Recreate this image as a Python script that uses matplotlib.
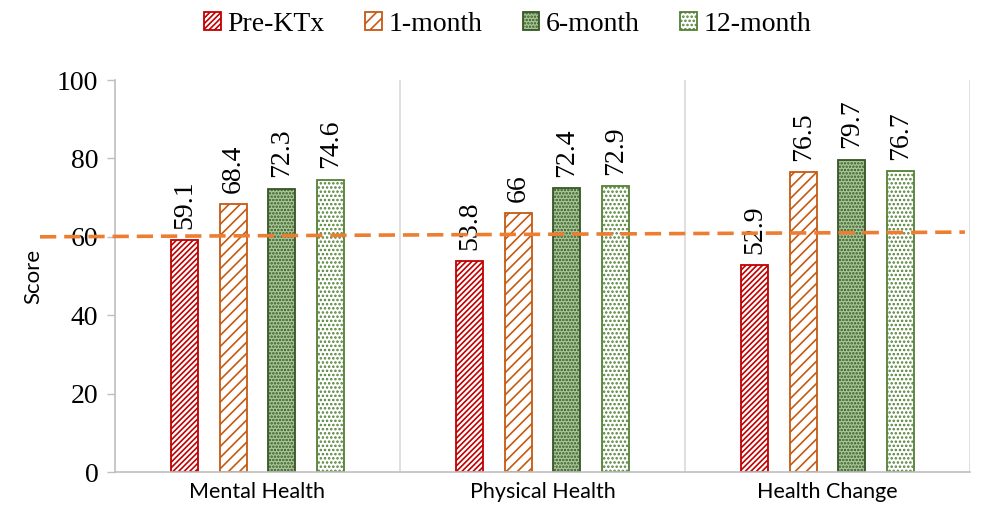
import matplotlib.pyplot as plt
import numpy as np

categories = ['Mental Health', 'Physical Health', 'Health Change']
series = ['Pre-KTx', '1-month', '6-month', '12-month']
pre_ktx = [59.1, 53.8, 52.9]
month_1 = [68.4, 66, 76.5]
month_6 = [72.3, 72.4, 79.7]
month_12 = [74.6, 72.9, 76.7]
value_labels = [['59.1', '53.8', '52.9'], ['68.4', '66', '76.5'],
                ['72.3', '72.4', '79.7'], ['74.6', '72.9', '76.7']]
ref_line = [60.0, 61.2]
yticks = [0, 20, 40, 60, 80, 100]

serif = 'Liberation Serif'
sans = 'Lato'

plt.rcParams['hatch.linewidth'] = 1.2

fig = plt.figure(figsize=(9.86, 5.21), dpi=100)
ax = fig.add_axes([0.1166, 0.094, 0.8672, 0.7524])

styles = [
    dict(facecolor='white', edgecolor='#C00000', hatch='//////'),
    dict(facecolor='white', edgecolor='#C55A11', hatch='///'),
    dict(facecolor='#A8C89A', edgecolor='#375623', hatch='.....'),
    dict(facecolor='white', edgecolor='#538135', hatch='....'),
]

x = np.arange(len(categories))
d = 0.171
w = 0.094
data = [pre_ktx, month_1, month_6, month_12]
for i, vals in enumerate(data):
    pos = x + (i - 1.5) * d
    bars = ax.bar(pos, vals, width=w, linewidth=1.3, label=series[i], **styles[i])
    for b, lab in zip(bars, value_labels[i]):
        ax.annotate(lab, (b.get_x() + b.get_width() / 2, b.get_height()),
                    xytext=(0, 8), textcoords='offset points', ha='center',
                    va='bottom', rotation=90, fontsize=20, family=serif)

# reference line
ax.plot([-0.763, 2.482], ref_line, color='#ED7D31', lw=2.6,
        dashes=(4.5, 2.2), clip_on=False, zorder=5)

ax.set_xlim(-0.5, 2.5)
ax.set_ylim(0, 100)
for xv in [0.5, 1.5, 2.5]:
    ax.axvline(xv, color='#D9D9D9', lw=1.2, zorder=0)

ax.set_yticks(yticks)
ax.set_yticklabels([str(t) for t in yticks], fontsize=20, family=serif)
ax.set_xticks(x)
ax.set_xticklabels(categories, fontsize=15.5, family=sans)
ax.tick_params(axis='x', length=0, pad=7)
ax.tick_params(axis='y', length=6, color='#BFBFBF', width=1, pad=6)
for s in ['top', 'right']:
    ax.spines[s].set_visible(False)
ax.spines['left'].set_color('#BFBFBF')
ax.spines['bottom'].set_color('#BFBFBF')
ax.spines['left'].set_linewidth(1.2)
ax.spines['bottom'].set_linewidth(1.2)
ax.set_ylabel('Score', fontsize=16, family=sans, labelpad=10)

fig.legend(loc='upper center', bbox_to_anchor=(0.515, 1.025), ncol=4,
           frameon=False, prop={'family': serif, 'size': 20},
           handlelength=0.6, handleheight=0.6, handletextpad=0.25,
           columnspacing=1.45)

fig.savefig('out.png', dpi=100)
